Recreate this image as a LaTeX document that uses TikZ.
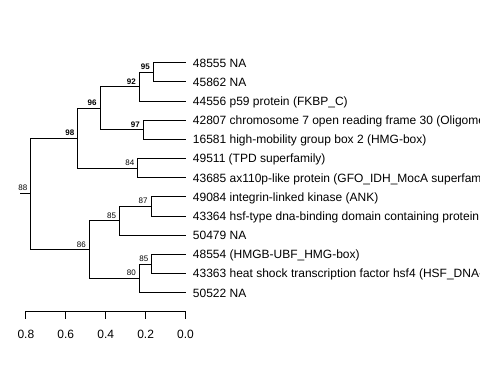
\documentclass[tikz,border=0pt]{standalone}
\usepackage{fontspec}
\setmainfont{Liberation Sans}

\begin{document}
\begin{tikzpicture}[x=1pt,y=-1pt,line width=0.9pt,
  leaf/.style={anchor=west,inner sep=0pt,inner xsep=7pt,
    font=\fontsize{12}{12}\selectfont,text height=8.6pt,text depth=0pt},
  boot/.style={anchor=base east,inner sep=0pt,xshift=-3pt,yshift=2.6pt,
    font=\fontsize{8}{8}\selectfont},
  strong/.style={boot,font=\fontsize{8}{8}\selectfont\bfseries},
  tick label/.style={anchor=north,inner sep=0pt,
    font=\fontsize{12}{12}\selectfont,text height=8.6pt,text depth=0pt}]

  \clip (0,0) rectangle (480,384);

  % leaves
  \node[leaf] (48555) at (185.5, 62.7) {48555 NA};
  \node[leaf] (45862) at (185.5, 81.9) {45862 NA};
  \node[leaf] (44556) at (185.5,101.0) {44556 p59 protein (FKBP\_C)};
  \node[leaf] (42807) at (185.5,120.2) {42807 chromosome 7 open reading frame 30 (Oligome};
  \node[leaf] (16581) at (185.5,139.4) {16581 high-mobility group box 2 (HMG-box)};
  \node[leaf] (49511) at (185.5,158.6) {49511 (TPD superfamily)};
  \node[leaf] (43685) at (185.5,177.7) {43685 ax110p-like protein (GFO\_IDH\_MocA superfam};
  \node[leaf] (49084) at (185.5,196.9) {49084 integrin-linked kinase (ANK)};
  \node[leaf] (43364) at (185.5,216.1) {43364 hsf-type dna-binding domain containing protein};
  \node[leaf] (50479) at (185.5,235.2) {50479 NA};
  \node[leaf] (48554) at (185.5,254.4) {48554 (HMGB-UBF\_HMG-box)};
  \node[leaf] (43363) at (185.5,273.6) {43363 heat shock transcription factor hsf4 (HSF\_DNA-};
  \node[leaf] (50522) at (185.5,292.7) {50522 NA};

  % inner nodes
  \coordinate (c95) at (153.3, 72.3);
  \coordinate (c92) at (139.3, 86.65);
  \coordinate (c97) at (143.3,129.8);
  \coordinate (c96) at (100.0,108.2);
  \coordinate (c84) at (137.7,168.15);
  \coordinate (c98) at (77.7,138.2);
  \coordinate (c87) at (151.0,206.5);
  \coordinate (c85a) at (119.5,220.85);
  \coordinate (c85b) at (151.7,264.0);
  \coordinate (c80) at (139.3,278.35);
  \coordinate (c86) at (89.3,249.6);
  \coordinate (c88) at (30.7,193.9);
  \coordinate (root) at (20.0,193.9);

  \node[strong] (b95) at (c95) {95};
  \node[strong] (b92) at (c92) {92};
  \node[strong] (b97) at (c97) {97};
  \node[strong] (b96) at (c96) {96};
  \node[strong] (b98) at (c98) {98};
  \node[boot] (b84) at (c84) {84};
  \node[boot] (b87) at (c87) {87};
  \node[boot] (b85a) at (c85a) {85};
  \node[boot] (b85b) at (c85b) {85};
  \node[boot] (b80) at (c80) {80};
  \node[boot] (b86) at (c86) {86};
  \node[boot,yshift=1.3pt] (b88) at (c88) {88};

  \path[draw]
    (root) -- (c88)
    (c88) |- (c98)   (c88) |- (c86)
    (c98) |- (c96)   (c98) |- (c84)
    (c96) |- (c92)   (c96) |- (c97)
    (c92) |- (c95)   (c92) |- (44556.west)
    (c95) |- (48555.west)   (c95) |- (45862.west)
    (c97) |- (42807.west)   (c97) |- (16581.west)
    (c84) |- (49511.west)   (c84) |- (43685.west)
    (c86) |- (c85a)  (c86) |- (c80)
    (c85a) |- (c87)  (c85a) |- (50479.west)
    (c87) |- (49084.west)   (c87) |- (43364.west)
    (c80) |- (c85b)  (c80) |- (50522.west)
    (c85b) |- (48554.west)  (c85b) |- (43363.west);

  % scale
  \coordinate (s0) at (25.9,311);
  \coordinate (s1) at (185.5,311);
  \draw[line width=0.8pt] (s0) -- (s1);
  \foreach \i/\v in {1/0.8,2/0.6,3/0.4,4/0.2,5/0.0} {
    \draw[line width=0.8pt] ({185.5-199.5*\v},311) -- ++(0,8)
      node[tick label,yshift=-10.3pt] (tick\i) {\v};
  }

\end{tikzpicture}
\end{document}
